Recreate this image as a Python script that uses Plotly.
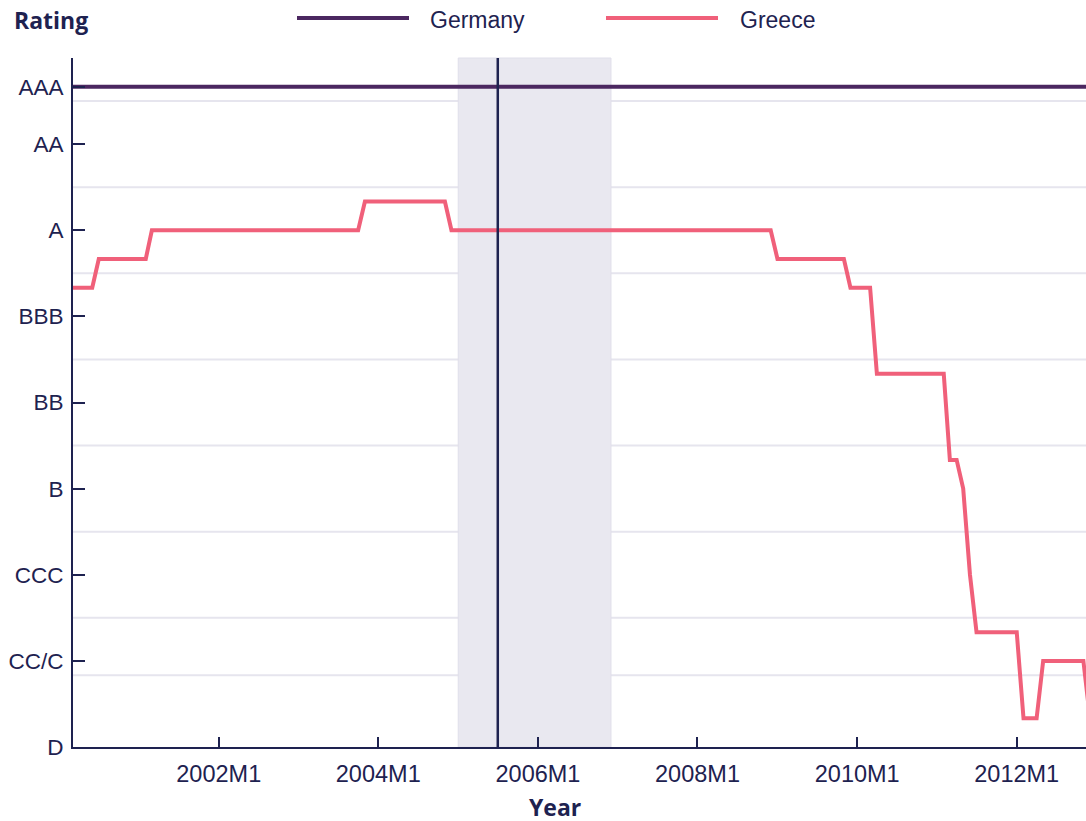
import plotly.graph_objects as go

# ---- data ----
rating_labels = ["D", "CC/C", "CCC", "B", "BB", "BBB", "A", "AA", "AAA"]
rating_values = [0, 3, 6, 9, 12, 15, 18, 21, 23]
grid_values = [2.5, 4.5, 7.5, 10.5, 13.5, 16.5, 19.5, 22.5]

germany_dates = ["2000-03-01", "2012-12-01"]
germany_values = [23, 23]

greece_dates = [
    "2000-03-01", "2000-06-01", "2000-07-01", "2001-02-01", "2001-03-01",
    "2003-10-01", "2003-11-01", "2004-11-01", "2004-12-01", "2008-12-01",
    "2009-01-01", "2009-11-01", "2009-12-01", "2010-03-01", "2010-04-01",
    "2011-02-01", "2011-03-01", "2011-04-01", "2011-05-01", "2011-06-01",
    "2011-07-01", "2012-01-01", "2012-02-01", "2012-04-01", "2012-05-01",
    "2012-11-01", "2012-12-01",
]
greece_values = [
    16, 16, 17, 17, 18,
    18, 19, 19, 18, 18,
    17, 17, 16, 16, 13,
    13, 10, 10, 9, 6,
    4, 4, 1, 1, 3,
    3, 1,
]

tick_dates = ["2002-01-01", "2004-01-01", "2006-01-01", "2008-01-01", "2010-01-01", "2012-01-01"]
tick_text = ["2002M1", "2004M1", "2006M1", "2008M1", "2010M1", "2012M1"]

shade_start, shade_end = "2005-01-01", "2006-12-01"
event_date = "2005-07-01"
x_range = ["2000-03-05", "2012-11-13"]

# ---- style ----
NAVY = "#1e2250"
GERMANY = "#4b2760"
GREECE = "#f0607a"
GRID = "#e6e5ee"
FONT = "Liberation Sans"
TITLE_FONT = "Open Sans"

W, H = 1086, 821
ML, MR, MT, MB = 73, 0, 58, 74
PLOT_W = W - ML - MR
PLOT_H = H - MT - MB

def px(x):
    return (x - ML) / PLOT_W

def py(y):
    return (H - MB - y) / PLOT_H

fig = go.Figure()

fig.add_trace(go.Scatter(x=germany_dates, y=germany_values, mode="lines", name="Germany",
                         line=dict(color=GERMANY, width=4), showlegend=False))
fig.add_trace(go.Scatter(x=greece_dates, y=greece_values, mode="lines", name="Greece",
                         line=dict(color=GREECE, width=4), showlegend=False))

shapes = []
for g in grid_values:
    shapes.append(dict(type="line", xref="paper", x0=0, x1=1, yref="y", y0=g, y1=g,
                       line=dict(color=GRID, width=2), layer="below"))
shapes.append(dict(type="rect", xref="x", x0=shade_start, x1=shade_end, yref="paper", y0=0, y1=1,
                   fillcolor="#e9e8f0", line=dict(color="#e0dfea", width=1), layer="below"))
shapes.append(dict(type="line", xref="x", x0=event_date, x1=event_date, yref="paper", y0=0, y1=1,
                   line=dict(color=NAVY, width=2.5)))
# manual legend (pixel positions)
legend_items = [("Germany", GERMANY, 297, 409, 428), ("Greece", GREECE, 606, 718, 738)]
annotations = []
for name, col, a, b, t in legend_items:
    shapes.append(dict(type="line", xref="paper", yref="paper", x0=px(a), x1=px(b), y0=py(18), y1=py(18),
                       line=dict(color=col, width=4)))
    annotations.append(dict(xref="paper", yref="paper", x=px(t), y=py(20), xanchor="left", yanchor="middle",
                            text=name, showarrow=False, font=dict(family=FONT, size=23, color=NAVY)))

annotations.append(dict(xref="paper", yref="paper", x=px(12), y=py(20), xanchor="left", yanchor="middle",
                        text="<b>Rating</b>", showarrow=False, font=dict(family=TITLE_FONT, size=23, color=NAVY)))
annotations.append(dict(xref="paper", yref="paper", x=px(555), y=py(807), xanchor="center", yanchor="middle",
                        text="<b>Year</b>", showarrow=False, font=dict(family=TITLE_FONT, size=23, color=NAVY)))

fig.update_layout(
    width=W, height=H,
    margin=dict(l=ML, r=MR, t=MT, b=MB),
    plot_bgcolor="white", paper_bgcolor="white",
    shapes=shapes, annotations=annotations,
    font=dict(family=FONT, size=22.5, color=NAVY),
)
fig.update_xaxes(type="date", range=x_range, tickvals=tick_dates, ticktext=tick_text,
                 ticks="inside", ticklen=10, tickwidth=2, tickcolor=NAVY,
                 showline=True, linecolor=NAVY, linewidth=2, showgrid=False, zeroline=False,
                 ticklabelstandoff=5, automargin=False, tickfont=dict(size=23.5))
fig.update_yaxes(range=[0, 24], tickvals=rating_values, ticktext=rating_labels,
                 ticks="inside", ticklen=12, tickwidth=2, tickcolor=NAVY,
                 showline=True, linecolor=NAVY, linewidth=2, showgrid=False, zeroline=False,
                 ticklabelstandoff=3, automargin=False)

fig.write_html("out.html", config=dict(displayModeBar=False),
               post_script="document.body.style.margin='0';document.body.style.overflow='hidden';")
